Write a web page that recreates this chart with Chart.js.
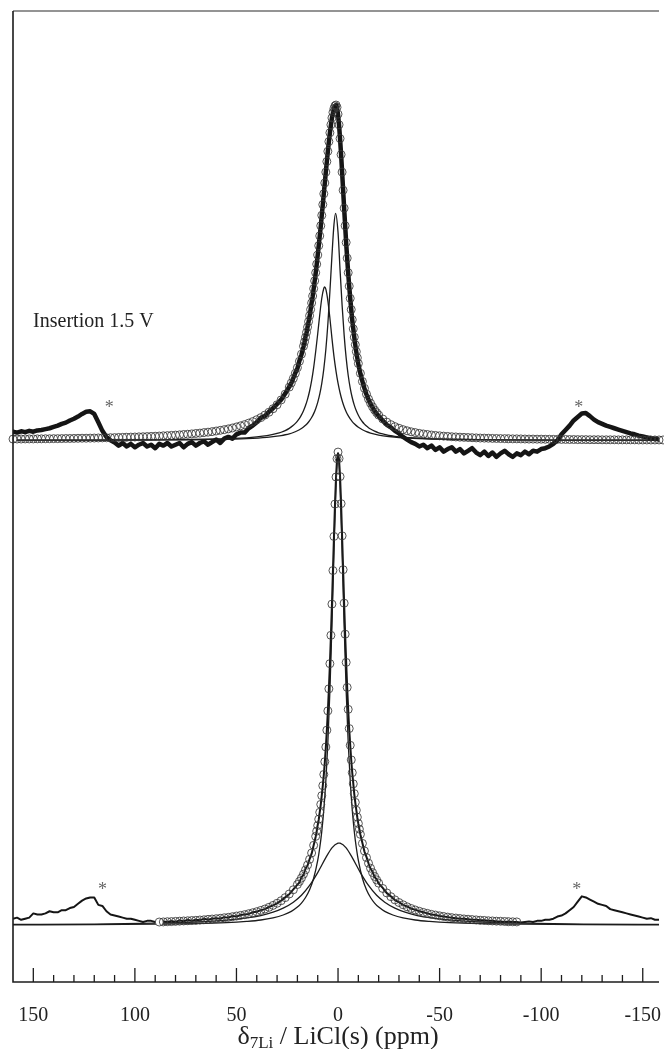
<!DOCTYPE html>
<html>
<head>
<meta charset="utf-8">
<script src="https://cdn.jsdelivr.net/npm/chart.js@4.4.1/dist/chart.umd.min.js"></script>
<style>
  html, body { margin: 0; padding: 0; background: #fff; overflow: hidden; }
  canvas { display: block; }
</style>
</head>
<body>
<canvas id="nmr" width="664" height="1049"></canvas>
<script>
// ================= DATA (ppm / intensity, arbitrary units) =================

// top spectrum (Insertion 1.5 V): experiment + total fit share one ppm grid
const topPpm = [
  160,158,156,154,152,150,148,146,144,142,140,138,136,134,132,130,128,126,124,122,
  120,118,116,114,112,110,108,106,104,102,100,98,96,94,92,90,88,86,84,82,
  80,78,76,74,72,70,68,66,64,62,60,58,56,54,52,50,48,46,44,42,
  40,38,36,34,32,30,28,26,24,
  23,22,21,20,19,18,17,
  16.5,16,15.5,15,14.5,14,13.5,13,12.5,12,11.5,11,10.5,10,9.5,9,8.5,8,7.5,7,
  6.5,6,5.5,5,4.5,4,3.5,3,2.5,2,1.5,1,0.5,0,-0.5,-1,-1.5,-2,-2.5,-3,
  -3.5,-4,-4.5,-5,-5.5,-6,-6.5,-7,-7.5,-8,-8.5,-9,-9.5,-10,
  -11,-12,-13,-14,-15,-16,-17,-18,-19,
  -20,-22,-24,-26,-28,-30,-32,-34,-36,-38,-40,-42,-44,-46,-48,-50,-52,-54,-56,-58,
  -60,-62,-64,-66,-68,-70,-72,-74,-76,-78,-80,-82,-84,-86,-88,-90,-92,-94,-96,-98,
  -100,-102,-104,-106,-108,-110,-112,-114,-116,-118,-120,-122,-124,-126,-128,-130,-132,-134,-136,-138,
  -140,-142,-144,-146,-148,-150,-152,-154,-156,-158,-160
];
const topExp = [
  52.3,52.2,52.35,52.25,52.4,52.3,52.45,52.5,52.6,52.7,52.85,53.0,53.2,53.35,53.6,53.8,54.05,54.35,54.6,54.65,
  54.35,53.4,52.4,51.7,51.3,51.05,50.7,51.0,50.6,50.9,50.5,50.8,51.0,50.6,50.8,50.4,50.9,50.7,51.0,50.6,
  50.8,51.0,50.5,50.9,51.1,50.7,51.0,51.2,50.8,51.1,51.4,51.0,51.5,51.7,51.5,52.0,52.2,52.2,52.7,53.0,
  53.4,53.9,54.1,54.6,55.0,55.5,56.0,56.7,57.5,
  57.9,58.5,59.1,59.6,60.5,61.2,62.1,
  62.6,63.3,63.7,64.4,65.0,65.6,66.4,67.2,67.9,68.8,69.7,70.6,71.6,72.7,73.8,74.9,76.0,77.3,78.5,79.8,
  81.0,82.3,83.5,84.7,85.8,86.8,87.7,88.5,89.1,89.6,89.9,90.0,89.7,88.9,87.7,86.1,84.3,82.3,80.2,78.1,
  76.1,74.1,72.3,70.6,69.1,67.7,66.4,65.2,64.2,63.2,62.3,61.5,60.8,60.1,
  59.0,58.1,57.3,56.6,56.0,55.5,55.1,54.7,54.4,
  54.1,53.6,53.1,52.8,52.4,52.1,51.7,51.4,51.1,50.9,50.6,50.8,50.4,50.7,50.2,50.5,50.0,50.3,50.5,50.0,
  50.3,49.8,50.1,50.4,49.9,49.6,50.0,49.5,49.9,49.4,49.8,50.1,49.7,49.4,49.8,49.6,50.0,49.7,50.1,50.0,
  50.3,50.4,50.6,50.9,51.3,52.0,52.5,53.0,53.6,54.0,54.4,54.45,54.1,53.7,53.4,53.2,53.0,52.85,52.7,52.55,
  52.4,52.25,52.1,52.0,51.85,51.75,51.65,51.55,51.5,51.4,51.35
];
const topFit = [
  51.45,51.46,51.46,51.47,51.47,51.47,51.48,51.48,51.49,51.49,51.5,51.5,51.51,51.52,51.52,51.53,51.54,51.55,51.55,51.56,
  51.57,51.58,51.59,51.6,51.61,51.62,51.64,51.65,51.66,51.68,51.69,51.71,51.72,51.74,51.76,51.78,51.8,51.83,51.85,51.88,
  51.91,51.94,51.98,52.01,52.05,52.1,52.14,52.2,52.25,52.31,52.38,52.46,52.54,52.63,52.73,52.85,52.98,53.12,53.29,53.47,
  53.69,53.93,54.22,54.55,54.95,55.41,55.97,56.64,57.45,
  57.93,58.45,59.04,59.69,60.43,61.25,62.17,
  62.67,63.2,63.77,64.37,65.01,65.69,66.4,67.16,67.96,68.81,69.71,70.65,71.64,72.68,73.77,74.9,76.07,77.27,78.51,79.76,
  81.01,82.26,83.48,84.66,85.78,86.8,87.72,88.51,89.15,89.6,89.9,90.0,89.73,88.95,87.72,86.13,84.28,82.26,80.17,78.1,
  76.07,74.14,72.33,70.65,69.1,67.69,66.4,65.23,64.17,63.21,62.34,61.54,60.83,60.17,
  59.04,58.1,57.31,56.64,56.07,55.59,55.17,54.81,54.5,
  54.22,53.77,53.41,53.12,52.89,52.7,52.54,52.41,52.29,52.2,52.11,52.04,51.98,51.92,51.87,51.83,51.79,51.76,51.72,51.7,
  51.67,51.65,51.63,51.61,51.59,51.57,51.56,51.55,51.53,51.52,51.51,51.5,51.49,51.48,51.48,51.47,51.46,51.45,51.45,51.44,
  51.44,51.43,51.43,51.42,51.42,51.41,51.41,51.4,51.4,51.39,51.39,51.39,51.38,51.38,51.38,51.37,51.37,51.37,51.37,51.36,
  51.36,51.36,51.36,51.36,51.35,51.35,51.35,51.35,51.35,51.35,51.35
];

// top spectrum components
const topNarrowPpm = [160,120,80,60,45,35,30,28,26,24,22,20,19,18,17,16,15,14,13,12,11,10,9,8,7,6,5,4,3,2,1.2,0,
  -1,-2,-3,-4,-5,-6,-7,-8,-9,-10,-11,-12,-13,-14,-15,-16,-18,-20,-22,-24,-26,-28,-30,-35,-45,-60,-80,-120,-160];
const topNarrow = [51.32,51.33,51.37,51.42,51.51,51.65,51.79,51.86,51.95,52.06,52.21,52.41,52.53,52.67,52.84,53.04,
  53.28,53.58,53.94,54.39,54.96,55.68,56.63,57.88,59.56,61.79,64.76,68.48,72.59,76.2,77.5,75.3,
  70.95,66.91,63.48,60.82,58.82,57.34,56.22,55.37,54.71,54.2,53.79,53.45,53.18,52.96,52.77,52.61,
  52.37,52.18,52.04,51.93,51.84,51.77,51.71,51.61,51.49,51.41,51.36,51.33,51.32];
const topBroadPpm = [160,120,80,60,45,40,35,30,28,26,24,22,21,20,19,18,17,16,15,14,13,12,11,10,9,8,7,6.6,6,5,
  4,3,2,1,0,-1,-2,-3,-4,-5,-6,-7,-8,-10,-12,-14,-16,-18,-20,-25,-30,-40,-60,-80,-120,-160];
const topBroad = [51.32,51.34,51.38,51.46,51.6,51.7,51.85,52.1,52.24,52.43,52.69,53.04,53.26,53.53,53.85,54.24,
  54.72,55.32,56.06,57.0,58.19,59.7,61.56,63.6,65.8,67.7,68.85,69.0,68.75,67.4,
  65.4,63.1,61.0,59.3,57.9,56.8,55.9,55.18,54.61,54.15,53.78,53.47,53.21,52.81,52.53,52.31,
  52.15,52.02,51.92,51.75,51.63,51.51,51.4,51.36,51.33,51.32];

// bottom spectrum (pristine): experiment over full range, fit only between 88 and -88 ppm
const bottomPpm = [
  160,158,156,154,152,150,148,146,144,142,140,138,136,134,132,130,128,126,124,122,
  120,118,116,114,112,110,108,106,104,102,100,98,96,94,92,90,88,
  86,84,82,80,78,76,74,72,70,68,66,64,62,60,58,56,54,52,50,48,46,44,42,40,38,36,34,32,30,28,26,24,22,20,
  19,18,17,16,15,14,13,12,11,
  10.5,10,9.5,9,8.5,8,7.5,7,6.5,6,5.5,5,4.5,4,3.5,3,2.5,2,1.5,1,0.5,0,
  -0.5,-1,-1.5,-2,-2.5,-3,-3.5,-4,-4.5,-5,-5.5,-6,-6.5,-7,-7.5,-8,-8.5,-9,-9.5,-10,-10.5,
  -11,-12,-13,-14,-15,-16,-17,-18,-19,
  -20,-22,-24,-26,-28,-30,-32,-34,-36,-38,-40,-42,-44,-46,-48,-50,-52,-54,-56,-58,-60,-62,-64,-66,-68,-70,
  -72,-74,-76,-78,-80,-82,-84,-86,
  -88,-90,-92,-94,-96,-98,-100,-102,-104,-106,-108,-110,-112,-114,-116,-118,-120,-122,-124,-126,-128,-130,
  -132,-134,-136,-138,-140,-142,-144,-146,-148,-150,-152,-154,-156,-158,-160
];
const bottomExp = [
  6.2,6.3,6.1,6.2,6.3,6.7,6.6,6.6,6.7,6.9,6.8,6.8,7.0,7.0,7.2,7.3,7.6,7.9,8.1,8.2,
  8.2,7.5,7.4,6.9,6.6,6.5,6.4,6.3,6.2,6.2,6.1,6.0,5.9,6.0,6.0,5.9,5.8,
  5.95,5.9,6.0,5.9,6.05,5.95,6.1,6.0,6.1,6.05,6.2,6.1,6.2,6.25,6.2,6.35,6.3,6.45,6.4,6.55,6.6,6.65,6.8,6.85,
  7.0,7.1,7.3,7.45,7.65,7.9,8.2,8.5,8.95,9.4,
  9.6,10.1,10.3,10.9,11.2,11.8,12.3,13.1,13.9,
  14.4,15.0,15.5,16.2,16.9,17.8,18.7,19.7,20.9,22.3,23.9,25.7,27.8,30.1,32.8,35.7,38.9,42.1,45.1,47.6,49.3,49.9,
  49.3,47.7,45.2,42.1,39.0,35.8,32.9,30.3,27.9,25.8,24.0,22.5,21.1,19.9,18.9,17.9,17.1,16.4,15.7,15.1,14.6,
  14.1,13.3,12.5,12.0,11.4,10.9,10.6,10.1,9.9,
  9.5,9.1,8.6,8.3,7.95,7.75,7.5,7.35,7.15,7.05,6.9,6.8,6.7,6.6,6.55,6.45,6.4,6.35,6.3,6.25,6.2,6.2,6.15,6.1,6.1,6.05,
  6.05,6.0,6.0,5.95,5.95,5.9,5.95,5.9,
  5.9,5.85,5.9,5.95,5.9,6.0,6.0,6.1,6.1,6.2,6.4,6.5,6.7,7.0,7.3,7.8,8.3,8.2,8.0,7.8,7.6,7.5,
  7.4,7.1,7.0,6.9,6.8,6.7,6.6,6.5,6.4,6.3,6.2,6.25,6.1,6.1,6.1
];
const bottomFit = [
  5.89,5.9,5.92,5.93,5.95,5.97,5.99,6.01,6.03,6.05,6.08,6.1,6.14,6.17,6.2,6.24,6.29,6.33,6.39,6.45,
  6.51,6.58,6.67,6.76,6.86,6.98,7.11,7.27,7.45,7.65,7.89,8.18,8.52,8.92,9.41,
  9.7,10.02,10.38,10.78,11.24,11.77,12.37,13.09,13.93,
  14.42,14.95,15.54,16.19,16.93,17.75,18.69,19.74,20.94,22.32,23.9,25.71,27.78,30.14,32.8,35.73,38.88,42.08,45.12,47.66,49.38,50.0,
  49.4,47.7,45.16,42.14,38.96,35.82,32.91,30.26,27.91,25.85,24.05,22.48,21.11,19.91,18.86,17.94,17.12,16.38,15.73,15.14,14.61,
  14.12,13.27,12.56,11.94,11.41,10.94,10.53,10.17,9.84,
  9.54,9.04,8.62,8.27,7.97,7.72,7.51,7.32,7.16,7.02,6.9,6.79,6.7,6.61,6.54,6.47,6.41,6.35,6.3,6.26,
  6.22,6.18,6.15,6.12,6.09,6.06,6.04,6.01,5.99,5.97,5.96,5.94,5.92,5.91,5.9
];

// bottom spectrum components
const bottomNarrowPpm = [160,120,90,70,55,45,38,32,27,23,20,18,16,14,12,10,9,8,7,6,5,4,3,2,1,0,
  -1,-2,-3,-4,-5,-6,-7,-8,-9,-10,-12,-14,-16,-18,-20,-23,-27,-32,-38,-45,-55,-70,-90,-120,-160];
const bottomNarrow = [5.63,5.65,5.69,5.74,5.83,5.95,6.08,6.28,6.55,6.89,7.29,7.67,8.19,8.92,10.0,11.67,12.86,14.4,
  16.43,19.14,22.77,27.6,33.76,40.8,47.01,49.6,
  47.01,40.8,33.76,27.6,22.77,19.14,16.43,14.4,12.86,11.67,10.0,8.92,8.19,7.67,7.29,6.89,6.55,6.28,6.08,
  5.95,5.83,5.74,5.69,5.65,5.63];
const bottomBroadPpm = [160,120,90,70,55,45,38,32,27,22,18,14,10,6,3,0,-0.5,-1,-4,-7,-11,-15,-19,-23,-28,-33,
  -39,-46,-56,-71,-91,-121,-160];
const bottomBroad = [5.66,5.7,5.78,5.89,6.06,6.27,6.5,6.81,7.19,7.75,8.4,9.32,10.53,11.93,12.85,13.29,13.3,13.29,
  12.85,11.93,10.53,9.32,8.4,7.75,7.19,6.81,6.5,6.27,6.06,5.89,5.78,5.7,5.66];

// x axis: tick positions and labelled ones
const tickValues = [150,140,130,120,110,100,90,80,70,60,50,40,30,20,10,0,
  -10,-20,-30,-40,-50,-60,-70,-80,-90,-100,-110,-120,-130,-140,-150];
const majorTicks = [150, 100, 50, 0, -50, -100, -150];

// ================= HELPERS =================
const pair = (xs, ys) => xs.map((x, i) => ({ x: x, y: ys[i] }));
const serif = '"Liberation Serif", "Times New Roman", serif';
const ink = '#1c1c1c';

// annotation anchors (ppm, intensity on the given axis)
const notes = [
  { text: 'Insertion 1.5 V', ppm: 150.1, val: 65.0, axis: 'yTop', size: 20, color: '#222', align: 'left' },
  { text: '*', ppm: 112.6, val: 55.0, axis: 'yTop', size: 18, color: '#666', align: 'center' },
  { text: '*', ppm: -118.5, val: 55.0, axis: 'yTop', size: 18, color: '#666', align: 'center' },
  { text: '*', ppm: 116.0, val: 8.9, axis: 'yBot', size: 18, color: '#666', align: 'center' },
  { text: '*', ppm: -117.5, val: 8.9, axis: 'yBot', size: 18, color: '#666', align: 'center' }
];

// ================= FRAME / TICKS / TEXT =================
const frame = {
  id: 'frame',
  afterDatasetsDraw(chart) {
    const { ctx, chartArea: a, scales } = chart;
    const x = scales.x;
    ctx.save();

    // grey top border, black left + bottom axis
    ctx.lineWidth = 1.6;
    ctx.strokeStyle = '#707070';
    ctx.beginPath(); ctx.moveTo(a.left, a.top); ctx.lineTo(a.right, a.top); ctx.stroke();
    ctx.strokeStyle = ink;
    ctx.beginPath(); ctx.moveTo(a.left, a.top); ctx.lineTo(a.left, a.bottom); ctx.lineTo(a.right, a.bottom); ctx.stroke();

    // tick marks pointing up into the plot
    ctx.lineWidth = 1.3;
    x.ticks.forEach(t => {
      const px = x.getPixelForValue(t.value);
      const len = majorTicks.includes(t.value) ? 14 : 7;
      ctx.beginPath(); ctx.moveTo(px, a.bottom); ctx.lineTo(px, a.bottom - len); ctx.stroke();
    });

    // labels inside the plot
    notes.forEach(n => {
      ctx.font = n.size + 'px ' + serif;
      ctx.fillStyle = n.color;
      ctx.textAlign = n.align;
      ctx.textBaseline = 'middle';
      ctx.fillText(n.text, x.getPixelForValue(n.ppm), scales[n.axis].getPixelForValue(n.val));
    });

    // axis title with subscript: delta_7Li / LiCl(s) (ppm)
    const parts = [['\u03b4', 26, 0], ['7Li', 17, 4], [' / LiCl(s) (ppm)', 26, 0]];
    let w = 0;
    parts.forEach(p => { ctx.font = p[1] + 'px ' + serif; w += ctx.measureText(p[0]).width; });
    let cx = x.getPixelForValue(0) - w / 2;
    ctx.fillStyle = '#222';
    ctx.textAlign = 'left';
    ctx.textBaseline = 'alphabetic';
    parts.forEach(p => {
      ctx.font = p[1] + 'px ' + serif;
      ctx.fillText(p[0], cx, 1044 + p[2]);
      cx += ctx.measureText(p[0]).width;
    });
    ctx.restore();
  }
};

// ================= CHART =================
const circleFill = ctx => ctx.dataIndex === 0 ? '#fff' : 'rgba(0,0,0,0)';
const circles = { showLine: false, order: 0, pointStyle: 'circle', pointRadius: 4, pointBorderWidth: 1,
  pointBorderColor: 'rgba(55,55,55,0.85)', pointBackgroundColor: circleFill };
const thin = { order: 1, borderColor: ink, borderWidth: 1.3, pointRadius: 0, cubicInterpolationMode: 'monotone' };

new Chart(document.getElementById('nmr'), {
  type: 'line',
  data: {
    datasets: [
      { ...circles, data: pair(topPpm, topFit), yAxisID: 'yTop', clip: false },
      { ...circles, data: pair(bottomPpm.filter(p => p <= 88 && p >= -88), bottomFit), yAxisID: 'yBot' },
      { ...thin, data: pair(topNarrowPpm, topNarrow), yAxisID: 'yTop' },
      { ...thin, data: pair(topBroadPpm, topBroad), yAxisID: 'yTop' },
      { ...thin, data: pair(bottomNarrowPpm, bottomNarrow), yAxisID: 'yBot' },
      { ...thin, data: pair(bottomBroadPpm, bottomBroad), yAxisID: 'yBot' },
      { data: pair(topPpm, topExp), yAxisID: 'yTop', order: 2, borderColor: '#151515', borderWidth: 4.5,
        borderJoinStyle: 'round', borderCapStyle: 'round', pointRadius: 0, tension: 0 },
      { data: pair(bottomPpm, bottomExp), yAxisID: 'yBot', order: 2, borderColor: '#151515', borderWidth: 2,
        borderJoinStyle: 'round', pointRadius: 0, tension: 0 }
    ]
  },
  options: {
    responsive: false,
    animation: false,
    events: [],
    layout: { padding: { left: 13, top: 11, right: 0, bottom: 21 } },
    plugins: { legend: { display: false }, tooltip: { enabled: false } },
    scales: {
      x: {
        type: 'linear',
        reverse: true,
        min: -158,
        max: 160,
        border: { display: false },
        // tick marks are drawn by the frame plugin; tickLength only spaces the labels
        grid: { display: false, drawTicks: true, tickLength: 22 },
        afterBuildTicks: axis => { axis.ticks = tickValues.map(v => ({ value: v })); },
        ticks: {
          autoSkip: false,
          maxRotation: 0,
          padding: 0,
          color: '#222',
          font: { family: serif, size: 20 },
          callback: v => majorTicks.includes(v) ? String(v) : ''
        }
      },
      // two stacked intensity axes, one per spectrum (hidden)
      yTop: { type: 'linear', display: false, min: -11.2, max: 100.85 },
      yBot: { type: 'linear', display: false, min: 0.26, max: 91.4 }
    }
  },
  plugins: [frame]
});
</script>
</body>
</html>
